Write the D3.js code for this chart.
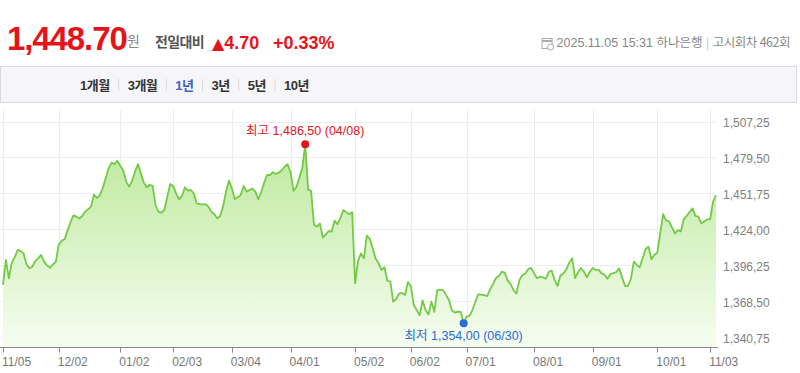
<!DOCTYPE html>
<html lang="ko">
<head>
<meta charset="utf-8">
<script src="https://cdn.jsdelivr.net/npm/d3@7"></script>
<style>
  html, body { margin: 0; padding: 0; background: #fff; }
  svg { display: block; font-family: "Liberation Sans", Arial, "Noto Sans CJK KR", sans-serif; }
</style>
</head>
<body>
<svg id="chart" width="800" height="373"></svg>
<script>
// ---- header / tab data
const currentRate = 1448.70
const changeAbs = 4.70
const changePct = 0.33
const stampText = '2025.11.05 15:31'
const bankName = '하나은행'
const roundText = '고시회차 462회'
const periodTabs = ['1개월', '3개월', '1년', '3년', '5년', '10년']
const activeTab = '1년'

// ---- calendar (bank business days)
const startDate = '2024-11-05'
const endDate = '2025-11-05'
const holidays = [
  '2024-12-25', '2025-01-01', '2025-01-27', '2025-01-28', '2025-01-29', '2025-01-30',
  '2025-03-03', '2025-05-01', '2025-05-05', '2025-05-06', '2025-06-03', '2025-06-06',
  '2025-08-15', '2025-10-03', '2025-10-06', '2025-10-07', '2025-10-08', '2025-10-09'
]

// ---- USD/KRW, one value per business day
const rates = [
  1382.4, 1400.9, 1387.3, 1398.9, 1402.9, 1408.3, 1407.5, 1405.8, 1397.7, 1394.7,
  1395.9, 1400.1, 1402.1, 1404.6, 1399.7, 1396.9, 1395.0, 1397.4, 1399.7, 1412.0,
  1415.2, 1416.2, 1422.6, 1428.8, 1433.9, 1433.0, 1431.5, 1433.4, 1436.7, 1438.4,
  1440.4, 1449.2, 1446.8, 1448.7, 1454.2, 1461.3, 1468.7, 1472.9, 1471.9, 1474.2,
  1470.5, 1467.0, 1458.9, 1455.2, 1459.4, 1466.3, 1471.9, 1465.0, 1458.1, 1454.7,
  1456.6, 1455.7, 1441.6, 1436.4, 1435.9, 1437.9, 1447.8, 1457.1, 1455.7, 1450.2,
  1445.8, 1448.3, 1454.7, 1452.2, 1452.7, 1450.2, 1442.8, 1442.3, 1442.1, 1442.1,
  1440.4, 1436.7, 1434.9, 1431.7, 1433.4, 1440.4, 1451.5, 1459.6, 1453.9, 1446.0,
  1447.3, 1449.0, 1455.7, 1451.5, 1452.7, 1453.7, 1451.5, 1445.8, 1451.2, 1458.1,
  1463.8, 1463.8, 1465.8, 1464.5, 1465.5, 1467.3, 1469.9, 1471.7, 1466.0, 1452.0,
  1455.0, 1462.0, 1469.0, 1486.5, 1453.0, 1452.0, 1427.0, 1425.5, 1428.0, 1417.5,
  1419.8, 1422.2, 1421.8, 1430.0, 1427.3, 1432.0, 1437.9, 1436.2, 1434.8, 1436.2,
  1383.6, 1400.0, 1405.8, 1402.1, 1419.0, 1416.5, 1409.5, 1401.8, 1398.4, 1393.5,
  1395.5, 1385.5, 1384.8, 1370.0, 1372.0, 1376.0, 1376.5, 1375.0, 1384.5, 1381.5,
  1367.5, 1363.8, 1360.0, 1371.0, 1363.8, 1360.5, 1370.0, 1362.5, 1378.5, 1379.0,
  1378.6, 1374.9, 1371.3, 1363.5, 1362.0, 1362.6, 1362.5, 1354.0, 1358.9, 1359.5,
  1364.0, 1370.0, 1375.5, 1375.3, 1374.9, 1374.2, 1379.2, 1382.8, 1387.5, 1389.0,
  1392.2, 1391.5, 1385.8, 1383.0, 1378.5, 1376.0, 1386.0, 1389.8, 1390.8, 1394.0,
  1395.0, 1391.0, 1387.3, 1388.5, 1388.0, 1387.0, 1392.0, 1393.0, 1386.0, 1381.6,
  1389.5, 1390.8, 1394.0, 1398.9, 1402.1, 1387.5, 1392.0, 1395.0, 1392.2, 1388.1,
  1392.2, 1395.0, 1393.5, 1393.5, 1391.0, 1390.0, 1387.0, 1390.5, 1391.2, 1392.0,
  1394.7, 1388.0, 1381.6, 1381.6, 1387.0, 1399.6, 1397.2, 1395.5, 1402.1, 1409.0,
  1410.7, 1401.4, 1404.8, 1406.3, 1421.0, 1434.9, 1430.0, 1429.5, 1425.0, 1420.5,
  1423.0, 1422.0, 1431.0, 1433.5, 1436.3, 1439.1, 1433.5, 1433.0, 1428.0, 1429.3,
  1431.0, 1431.0, 1444.0, 1448.7
]

// ---- axis labels
const xTickDates = [
  '2024-11-05', '2024-12-02', '2025-01-02', '2025-02-03', '2025-03-04', '2025-04-01',
  '2025-05-02', '2025-06-02', '2025-07-01', '2025-08-01', '2025-09-01', '2025-10-01', '2025-11-03'
]
const yTicks = [1340.75, 1368.50, 1396.25, 1424.00, 1451.75, 1479.50, 1507.25]

const parseDay = d3.timeParse('%Y-%m-%d')
const fmtDay = d3.timeFormat('%Y-%m-%d')
const fmtMD = d => d3.timeFormat('%m/%d')(parseDay(d))
// the chart prints its decimals with a comma
const fmtAxis = v => d3.format(',.2f')(v).replace(/\.(\d+)$/, ',$1')

const dates = d3.timeDay.range(parseDay(startDate), d3.timeDay.offset(parseDay(endDate), 1))
  .filter(d => d.getDay() !== 0 && d.getDay() !== 6)
  .map(fmtDay)
  .filter(d => !holidays.includes(d))
if (dates.length !== rates.length) console.warn('dates/rates mismatch', dates.length, rates.length)

const data = dates.map((d, i) => ({ date: d, value: rates[i] }))

const RED = '#e5141b', BLUE = '#2b6bd6', GREEN = '#72ca47'
const svg = d3.select('#chart')

// ---------------- header
const head = svg.append('g')
head.append('text')
  .attr('x', 7).attr('y', 49.5)
  .attr('font-size', 33).attr('font-weight', 'bold').attr('letter-spacing', -1.1)
  .attr('fill', RED)
  .text(d3.format(',.2f')(currentRate))
head.append('text')
  .attr('x', 127).attr('y', 45.5)
  .attr('font-size', 14).attr('fill', '#888')
  .style('font-family', '"Noto Sans CJK KR", sans-serif')
  .text('원')
head.append('text')
  .attr('x', 155).attr('y', 47)
  .attr('font-size', 14).attr('font-weight', 'bold').attr('letter-spacing', -0.6)
  .attr('fill', '#555')
  .style('font-family', '"Noto Sans CJK KR", sans-serif')
  .text('전일대비')
const chg = head.append('text')
  .attr('y', 48.5).attr('font-size', 18).attr('font-weight', 'bold').attr('fill', RED)
chg.append('tspan').attr('x', 212).attr('font-size', 16).style('font-family', '"DejaVu Sans", sans-serif').text('▲')
chg.append('tspan').text(d3.format('.2f')(changeAbs))
chg.append('tspan').attr('x', 273).text('+' + d3.format('.2f')(changePct) + '%')

const info = head.append('text')
  .attr('x', 790).attr('y', 47).attr('text-anchor', 'end')
  .attr('font-size', 12.5).attr('fill', '#888')
info.append('tspan').text(stampText + ' ')
info.append('tspan').style('font-family', '"Noto Sans CJK KR", sans-serif').text(bankName)
info.append('tspan').attr('fill', '#ccc').text(' | ')
info.append('tspan').style('font-family', '"Noto Sans CJK KR", sans-serif').attr('letter-spacing', -0.5).text(roundText)
const ib = info.node().getBBox()
const icon = head.append('g').attr('transform', `translate(${ib.x - 15},${37})`)
  .attr('fill', 'none').attr('stroke', '#aaa')
icon.append('rect').attr('x', 0.5).attr('y', 1.5).attr('width', 10).attr('height', 10)
icon.append('line').attr('x1', 0.5).attr('x2', 10.5).attr('y1', 4).attr('y2', 4).attr('stroke-width', 2)
icon.append('circle').attr('cx', 9).attr('cy', 10).attr('r', 3).attr('fill', '#fff')

// ---------------- period tabs
svg.append('rect')
  .attr('x', 0.5).attr('y', 66.5).attr('width', 796).attr('height', 36)
  .attr('fill', '#f6f6f8').attr('stroke', '#d9d9de')
let cx = 80
periodTabs.forEach((t, i) => {
  const tx = svg.append('text')
    .attr('x', cx).attr('y', 89.5)
    .attr('font-size', 13).attr('font-weight', 'bold').attr('letter-spacing', -0.5)
    .attr('fill', t === activeTab ? '#3c63c0' : '#333')
    .style('font-family', '"Liberation Sans", "Noto Sans CJK KR", sans-serif')
    .text(t)
  const w = tx.node().getComputedTextLength()
  if (i < periodTabs.length - 1) {
    svg.append('line')
      .attr('x1', cx + w + 9).attr('x2', cx + w + 9).attr('y1', 79).attr('y2', 91)
      .attr('stroke', '#dcdcdc')
  }
  cx += w + 18
})

// ---------------- chart
const plotLeft = 0, plotRight = 716, plotTop = 110, plotBottom = 347.5

const x = d3.scalePoint().domain(dates).range([3, 716])
const y = d3.scaleLinear().domain([1336.1, 1511.9]).range([plotBottom, plotTop])
// gridlines / labels are spaced evenly like the original widget
const yGrid = d3.scalePoint().domain(yTicks).range([337, 121.5])

const grid = svg.append('g').attr('stroke', '#ededed').attr('stroke-width', 1)
grid.selectAll('.hg').data(yTicks).join('line')
  .attr('x1', plotLeft).attr('x2', plotRight)
  .attr('y1', d => Math.round(yGrid(d)) + 0.5).attr('y2', d => Math.round(yGrid(d)) + 0.5)
grid.selectAll('.vg').data(xTickDates).join('line')
  .attr('x1', d => Math.round(x(d)) + 0.5).attr('x2', d => Math.round(x(d)) + 0.5)
  .attr('y1', plotTop).attr('y2', plotBottom)

const defs = svg.append('defs')
const grad = defs.append('linearGradient')
  .attr('id', 'fillGrad').attr('gradientUnits', 'userSpaceOnUse')
  .attr('x1', 0).attr('x2', 0).attr('y1', y(d3.max(rates))).attr('y2', plotBottom)
grad.append('stop').attr('offset', 0).attr('stop-color', '#bde99c')
grad.append('stop').attr('offset', 1).attr('stop-color', '#f6fdf1')

const area = d3.area()
  .x(d => x(d.date))
  .y0(plotBottom)
  .y1(d => y(d.value))
const line = d3.line()
  .x(d => x(d.date))
  .y(d => y(d.value))

svg.append('path').datum(data)
  .attr('d', area).attr('fill', 'url(#fillGrad)')
svg.append('path').datum(data)
  .attr('d', line).attr('fill', 'none')
  .attr('stroke', GREEN).attr('stroke-width', 1.8).attr('stroke-linejoin', 'round')

// x axis
svg.append('line')
  .attr('x1', plotLeft).attr('x2', plotRight + 2)
  .attr('y1', plotBottom).attr('y2', plotBottom)
  .attr('stroke', '#8a8a8a')
const xt = svg.append('g')
xt.selectAll('line').data(xTickDates).join('line')
  .attr('x1', d => Math.round(x(d)) + 0.5).attr('x2', d => Math.round(x(d)) + 0.5)
  .attr('y1', plotBottom).attr('y2', plotBottom + 5)
  .attr('stroke', '#8a8a8a')
xt.selectAll('text').data(xTickDates).join('text')
  .attr('x', d => x(d) - 1).attr('y', 366)
  .attr('font-size', 12).attr('fill', '#777')
  .text(fmtMD)

// y labels
svg.append('g').selectAll('text').data(yTicks).join('text')
  .attr('x', 723).attr('y', d => yGrid(d) + 5.5)
  .attr('font-size', 12).attr('fill', '#808080')
  .text(fmtAxis)

// high / low markers
const hi = d3.greatest(data, d => d.value)
const lo = d3.least(data, d => d.value)
const ko = '"Noto Sans CJK KR", sans-serif'

svg.append('circle').attr('cx', x(hi.date)).attr('cy', y(hi.value)).attr('r', 4).attr('fill', RED)
const hiT = svg.append('text')
  .attr('x', x(hi.date)).attr('y', y(hi.value) - 9).attr('text-anchor', 'middle')
  .attr('font-size', 12.5).attr('fill', RED)
hiT.append('tspan').style('font-family', ko).text('최고 ')
hiT.append('tspan').text(fmtAxis(hi.value) + ' (' + fmtMD(hi.date) + ')')

svg.append('circle').attr('cx', x(lo.date)).attr('cy', y(lo.value)).attr('r', 4).attr('fill', BLUE)
const loT = svg.append('text')
  .attr('x', x(lo.date)).attr('y', y(lo.value) + 17).attr('text-anchor', 'middle')
  .attr('font-size', 12.5).attr('fill', BLUE)
loT.append('tspan').style('font-family', ko).text('최저 ')
loT.append('tspan').text(fmtAxis(lo.value) + ' (' + fmtMD(lo.date) + ')')
</script>
</body>
</html>
